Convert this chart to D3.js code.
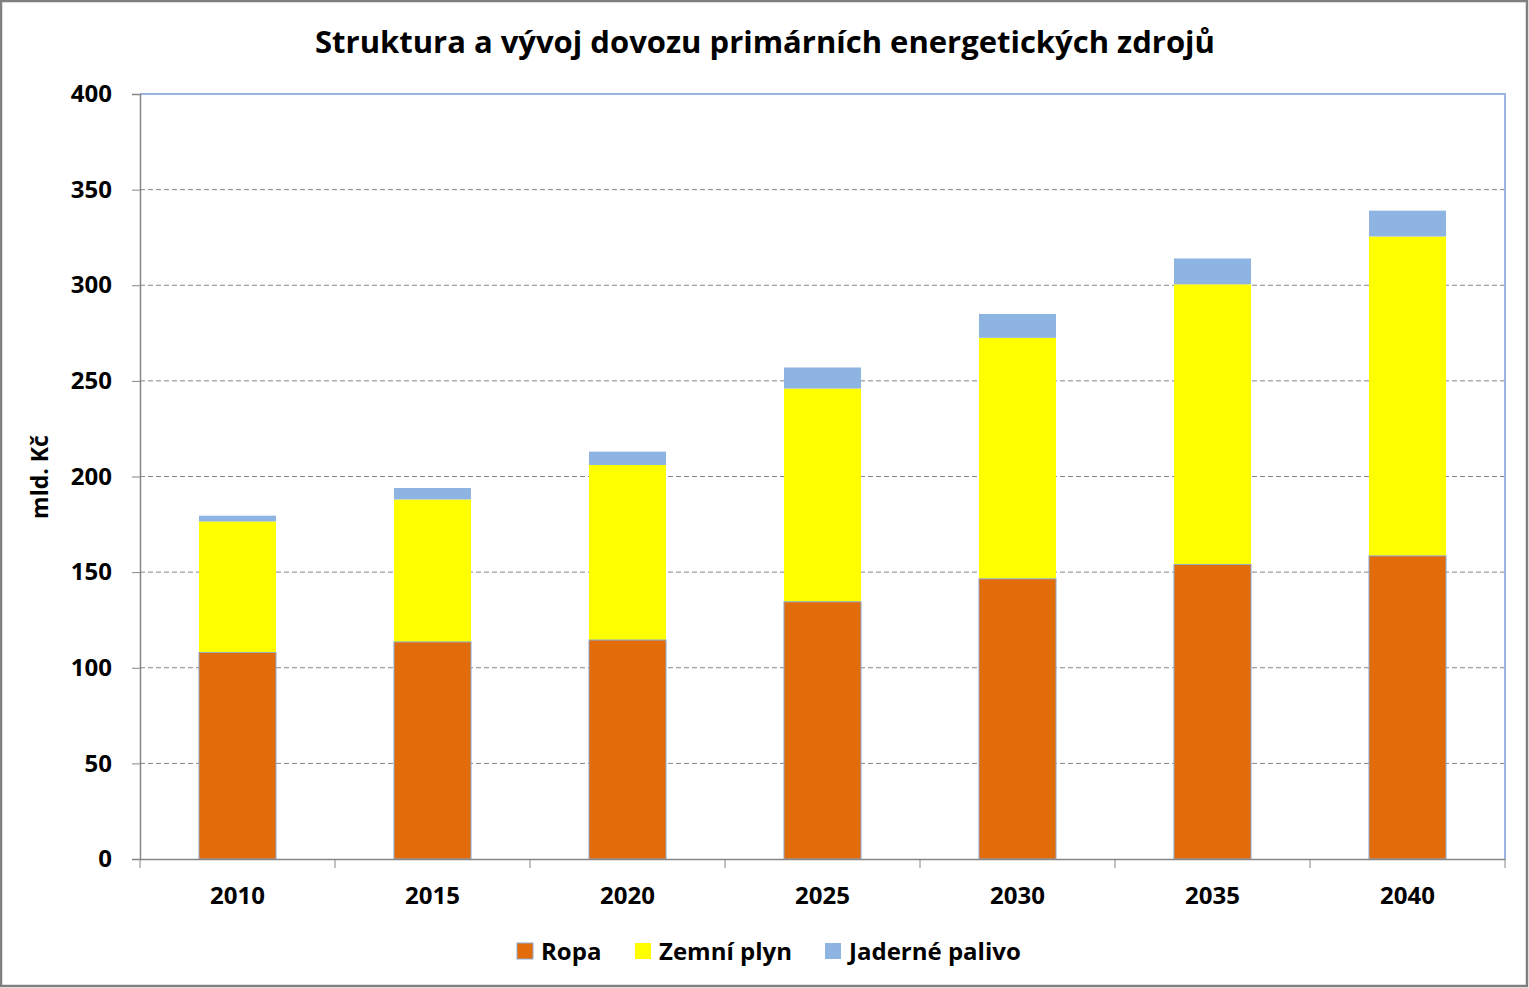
<!DOCTYPE html>
<html>
<head>
<meta charset="utf-8">
<script src="https://cdn.jsdelivr.net/npm/d3@7"></script>
<style>
  body { margin: 0; background: #fff; }
  svg { display: block; font-family: "Open Sans", "DejaVu Sans", sans-serif; }
</style>
</head>
<body>
<svg></svg>
<script>
// data
const years = ["2010", "2015", "2020", "2025", "2030", "2035", "2040"];
const ropa = [108, 113.5, 114.5, 134.5, 146.5, 154, 158.5];
const zemniPlyn = [68.5, 74.5, 91.5, 111.5, 126, 146.5, 167];
const jadernePalivo = [3, 6, 7, 11, 12.5, 13.5, 13.5];
const seriesNames = ["Ropa", "Zemní plyn", "Jaderné palivo"];
const yTicks = [0, 50, 100, 150, 200, 250, 300, 350, 400];

const colors = ["#E36C0A", "#FFFF00", "#8EB4E3"];

const width = 1529;
const height = 988;
const plot = { left: 140, top: 94, right: 1505, bottom: 859 };

let svg = d3.select("svg")
  .attr("width", width)
  .attr("height", height);

// outer frame
svg.append("rect")
  .attr("x", 1).attr("y", 1)
  .attr("width", width - 3).attr("height", height - 3)
  .attr("fill", "#fff")
  .attr("stroke", "#808080")
  .attr("stroke-width", 2.5);

let table = years.map((y, i) => ({
  year: y,
  "Ropa": ropa[i],
  "Zemní plyn": zemniPlyn[i],
  "Jaderné palivo": jadernePalivo[i]
}));
let stacked = d3.stack().keys(seriesNames)(table);

let scX = d3.scaleBand()
  .domain(years)
  .range([plot.left, plot.right])
  .paddingInner(0.605)
  .paddingOuter(0.3025);

let scY = d3.scaleLinear()
  .domain([0, 400])
  .range([plot.bottom, plot.top]);

// grid lines
svg.append("g")
  .selectAll("line")
  .data(yTicks.filter(t => t > 0 && t < 400))
  .enter()
  .append("line")
  .attr("x1", plot.left)
  .attr("x2", plot.right)
  .attr("y1", d => scY(d))
  .attr("y2", d => scY(d))
  .attr("stroke", "#868686")
  .attr("stroke-width", 1)
  .attr("stroke-dasharray", "5,3");

// plot border top and right
svg.append("path")
  .attr("d", `M${plot.left},${plot.top}H${plot.right}V${plot.bottom}`)
  .attr("fill", "none")
  .attr("stroke", "#9DB5E3")
  .attr("stroke-width", 2);

// bars
svg.append("g")
  .selectAll("g")
  .data(stacked)
  .enter()
  .append("g")
  .attr("fill", (d, i) => colors[i])
  .selectAll("rect")
  .data(d => d)
  .enter()
  .append("rect")
  .attr("x", d => scX(d.data.year))
  .attr("y", d => scY(d[1]))
  .attr("width", scX.bandwidth())
  .attr("height", d => scY(d[0]) - scY(d[1]));

// thin outline of the bottom series
svg.append("g")
  .selectAll("rect")
  .data(stacked[0])
  .enter()
  .append("rect")
  .attr("x", d => scX(d.data.year))
  .attr("y", d => scY(d[1]))
  .attr("width", scX.bandwidth())
  .attr("height", d => scY(d[0]) - scY(d[1]))
  .attr("fill", "none")
  .attr("stroke", "#8EA9CF")
  .attr("stroke-width", 1);

// y axis
let axisY = d3.axisLeft(scY).tickValues(yTicks).tickSize(8).tickPadding(20);
let gy = svg.append("g")
  .attr("transform", `translate(${plot.left},0)`)
  .call(axisY)
  .attr("font-family", null);
gy.select(".domain").attr("stroke", "#868686").attr("stroke-width", 1.5);
gy.selectAll(".tick line").attr("stroke", "#868686");
gy.selectAll("text")
  .attr("font-size", 24)
  .attr("font-weight", "bold")
  .attr("fill", "#000");

// x axis
let axisX = d3.axisBottom(scX).tickSize(0).tickPadding(28);
let gx = svg.append("g")
  .attr("transform", `translate(0,${plot.bottom})`)
  .call(axisX)
  .attr("font-family", null);
gx.select(".domain").attr("stroke", "#868686").attr("stroke-width", 1.5);
gx.selectAll("text")
  .attr("font-size", 24)
  .attr("font-weight", "bold")
  .attr("fill", "#000");

// ticks between categories
let step = scX.step();
svg.append("g")
  .selectAll("line")
  .data(d3.range(years.length + 1))
  .enter()
  .append("line")
  .attr("x1", i => plot.left + i * step)
  .attr("x2", i => plot.left + i * step)
  .attr("y1", plot.bottom)
  .attr("y2", plot.bottom + 9)
  .attr("stroke", "#868686");

// title
svg.append("text")
  .attr("x", 765)
  .attr("y", 53)
  .attr("text-anchor", "middle")
  .attr("font-size", 31)
  .attr("font-weight", "bold")
  .text("Struktura a vývoj dovozu primárních energetických zdrojů");

// y label
svg.append("text")
  .attr("transform", "translate(48,477) rotate(-90)")
  .attr("text-anchor", "middle")
  .attr("font-size", 23)
  .attr("font-weight", "bold")
  .text("mld. Kč");

// legend
const legendX = [517, 635, 825];
let legend = svg.append("g");
seriesNames.forEach(function(name, i) {
  legend.append("rect")
    .attr("x", legendX[i])
    .attr("y", 943)
    .attr("width", 16)
    .attr("height", 16)
    .attr("fill", colors[i])
    .attr("stroke", i === 0 ? "#8EA9CF" : "none");
  legend.append("text")
    .attr("x", legendX[i] + 24)
    .attr("y", 960)
    .attr("font-size", 24)
    .attr("font-weight", "bold")
    .text(name);
});
</script>
</body>
</html>
